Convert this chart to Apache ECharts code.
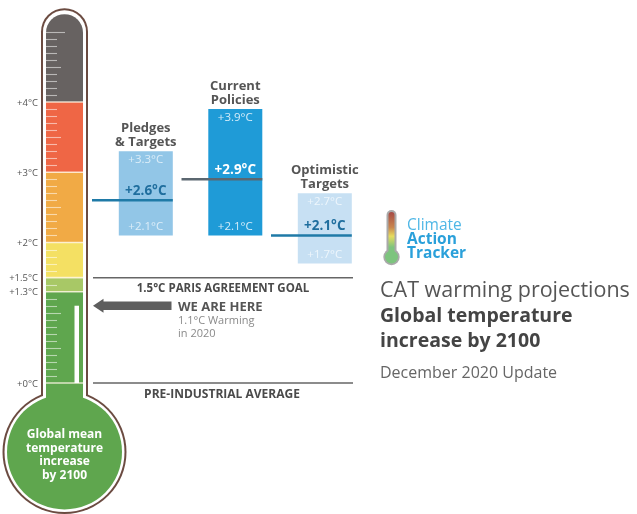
<!DOCTYPE html>
<html><head><meta charset="utf-8">
<script src="https://cdn.jsdelivr.net/npm/echarts@6/dist/echarts.min.js"></script>
<style>html,body{margin:0;padding:0;background:#fff}#c{width:637px;height:514px}</style>
</head><body><div id="c"></div><script>
// ---- data ----
const scenarioNames = ['Pledges & Targets', 'Current Policies', 'Optimistic Targets'];
const scenarioTitles = ['Pledges\n& Targets', 'Current\nPolicies', 'Optimistic\nTargets'];
const lowValues = [2.1, 2.1, 1.7];
const highValues = [3.3, 3.9, 2.7];
const medianValues = [2.6, 2.9, 2.1];
const bandBounds = [0, 1.3, 1.5, 2, 3, 4, 5.25];
const tempLabelValues = [4, 3, 2, 1.5, 1.3, 0];
const currentWarming = 1.1;
const currentYear = 2020;
const parisGoal = 1.5;
const preIndustrial = 0;

// ---- styles ----
const FONT = '"Open Sans", "DejaVu Sans", sans-serif';
const bandColors = ['#5fa64e', '#a8c866', '#f4e063', '#f1aa45', '#ef6645', '#676261'];
const barColors = ['#92c6e7', '#1f9bd7', '#c7e0f3'];
const lineColors = ['#1f7aa7', '#5b6770', '#1f7aa7'];
const medianTextColors = ['#1f6e9e', '#ffffff', '#1f6e9e'];
const rangeTextColors = ['#dcedf8', '#d4ecf9', '#eef6fc'];
const Y_MIN = -1, Y_MAX = 5.4;

const fmtRange = v => '+' + v.toFixed(1) + '\u00B0C';
const fmtAxis = v => '+' + (Number.isInteger(v) ? v : v.toFixed(1)) + '\u00B0C';

function txt(text, x, y, o) {
  return { type: 'text', style: Object.assign({ text: text, x: x, y: y, fontFamily: FONT, fontSize: 11, fill: '#555', align: 'center', verticalAlign: 'middle' }, o || {}) };
}

function renderThermo(params, api) {
  const y = v => api.coord([0, v])[1];
  const L = 46, R = 83, W = R - L, CX = 64.5, bulbCY = 452;
  const ch = [];
  const tubeTop = y(bandBounds[bandBounds.length - 1]);
  ch.push({ type: 'rect', shape: { x: 41, y: tubeTop - 6, width: 47, height: bulbCY - tubeTop + 6, r: [23.5, 23.5, 0, 0] }, style: { fill: '#6b4b41' } });
  ch.push({ type: 'circle', shape: { cx: CX, cy: bulbCY, r: 62 }, style: { fill: '#6b4b41' } });
  ch.push({ type: 'rect', shape: { x: 43, y: tubeTop - 4, width: 43, height: bulbCY - tubeTop + 4, r: [21.5, 21.5, 0, 0] }, style: { fill: '#fff' } });
  ch.push({ type: 'circle', shape: { cx: CX, cy: bulbCY, r: 60 }, style: { fill: '#fff' } });
  ch.push({ type: 'circle', shape: { cx: CX, cy: bulbCY, r: 57.5 }, style: { fill: bandColors[0] } });
  const nb = bandBounds.length - 1;
  for (let i = 0; i < nb; i++) {
    const top = y(bandBounds[i + 1]);
    const bot = i === 0 ? bulbCY : y(bandBounds[i]);
    ch.push({ type: 'rect', shape: { x: L, y: top, width: W, height: bot - top, r: i === nb - 1 ? [18.5, 18.5, 0, 0] : 0 }, style: { fill: bandColors[i] } });
  }
  // ticks every 0.1
  for (let k = 1; k <= 50; k++) {
    const v = k / 10;
    if (k !== 50 && bandBounds.some(b => Math.abs(b - v) < 1e-6)) continue;
    const len = k === 50 ? 19 : (k % 5 === 0 ? 15 : 11);
    const yy = Math.round(y(v)) + 0.5;
    ch.push({ type: 'line', shape: { x1: L, y1: yy, x2: L + len, y2: yy }, style: { stroke: 'rgba(255,255,255,0.55)', lineWidth: 1.1 } });
  }
  // separators
  for (let i = 0; i < nb; i++) {
    const yy = y(bandBounds[i]);
    ch.push({ type: 'line', shape: { x1: L, y1: yy, x2: R, y2: yy }, style: { stroke: 'rgba(255,248,230,0.8)', lineWidth: 1.6 } });
  }
  // current warming white bar
  ch.push({ type: 'rect', shape: { x: 74.5, y: y(currentWarming), width: 4.5, height: y(0) - y(currentWarming) }, style: { fill: '#ffffff' } });
  // bulb text
  ch.push(txt('Global mean\ntemperature\nincrease\nby 2100', CX, 455, { fill: '#fff', fontWeight: 'bold', fontSize: 12, lineHeight: 13.5 }));
  // left labels
  tempLabelValues.forEach(v => ch.push(txt(fmtAxis(v), 38, y(v) + 1, { align: 'right', fontSize: 9.5, fill: '#555' })));
  // reference lines
  const yP = y(parisGoal), y0 = y(preIndustrial);
  ch.push({ type: 'line', shape: { x1: 93, y1: yP, x2: 353, y2: yP }, style: { stroke: '#666', lineWidth: 1.5 } });
  ch.push(txt(parisGoal.toFixed(1) + '\u00B0C PARIS AGREEMENT GOAL', 223, yP + 11.5, { fontWeight: 'bold', fontSize: 11.5, fill: '#4a4a4a' }));
  ch.push({ type: 'line', shape: { x1: 93, y1: y0, x2: 353, y2: y0 }, style: { stroke: '#666', lineWidth: 1.5 } });
  ch.push(txt('PRE-INDUSTRIAL AVERAGE', 222, y0 + 11.5, { fontWeight: 'bold', fontSize: 12, fill: '#4a4a4a' }));
  // arrow "we are here"
  const ya = y(currentWarming);
  ch.push({ type: 'polygon', shape: { points: [[93, ya], [103.5, ya - 7], [103.5, ya - 4.2], [171.5, ya - 4.2], [171.5, ya + 4.2], [103.5, ya + 4.2], [103.5, ya + 7]] }, style: { fill: '#5e5e5e' } });
  ch.push(txt('WE ARE HERE', 178, ya + 1.5, { align: 'left', fontWeight: 'bold', fontSize: 13, fill: '#555' }));
  ch.push(txt(currentWarming.toFixed(1) + '\u00B0C Warming\nin ' + currentYear, 178, ya + 22, { align: 'left', fontSize: 11, fill: '#8a8a8a', lineHeight: 13 }));
  return { type: 'group', children: ch };
}

function renderScenario(params, api) {
  const i = api.value(0), lo = api.value(1), hi = api.value(2), md = api.value(3);
  const c = api.coord([i, hi]);
  const bw = api.size([1, 0])[0];
  const x0 = c[0] - bw / 2;
  const bx = x0 + 27.8, bW = 54, cx = bx + bW / 2;
  const yHi = c[1], yLo = api.coord([i, lo])[1], yMd = api.coord([i, md])[1];
  const ch = [];
  ch.push({ type: 'rect', shape: { x: bx, y: yHi, width: bW, height: yLo - yHi }, style: { fill: barColors[i] } });
  ch.push({ type: 'line', shape: { x1: x0 + 1, y1: yMd, x2: bx + bW, y2: yMd }, style: { stroke: lineColors[i], lineWidth: 2.5 } });
  ch.push(txt(fmtRange(hi), cx, yHi + 8.5, { fontSize: 11.5, fill: rangeTextColors[i] }));
  ch.push(txt(fmtRange(lo), cx, yLo - 8.5, { fontSize: 11.5, fill: rangeTextColors[i] }));
  ch.push(txt(fmtRange(md), cx, yMd - 9, { fontSize: 13.5, fontWeight: 'bold', fill: medianTextColors[i] }));
  ch.push(txt(scenarioTitles[i], cx, yHi - 2, { verticalAlign: 'bottom', fontSize: 13, fontWeight: 'bold', fill: '#555', lineHeight: 14 }));
  return { type: 'group', children: ch };
}

const chart = echarts.init(document.getElementById('c'));
chart.setOption({
  animation: false,
  backgroundColor: '#fff',
  grid: [
    { left: 91, width: 268.5, top: 3.65, bottom: 60.75 },
    { left: 0, right: 0, top: 3.65, bottom: 60.75 }
  ],
  xAxis: [
    { type: 'category', gridIndex: 0, data: scenarioNames, show: false },
    { type: 'value', gridIndex: 1, min: 0, max: 637, show: false }
  ],
  yAxis: [
    { type: 'value', gridIndex: 0, min: Y_MIN, max: Y_MAX, show: false },
    { type: 'value', gridIndex: 1, min: Y_MIN, max: Y_MAX, show: false }
  ],
  graphic: [
    { type: 'rect', shape: { x: 386.5, y: 210, width: 10, height: 44, r: [5, 5, 0, 0] }, style: { fill: '#a9a9a9' } },
    { type: 'circle', shape: { cx: 391.5, cy: 257, r: 8.2 }, style: { fill: '#a9a9a9' } },
    { type: 'rect', shape: { x: 388.5, y: 212, width: 6, height: 44, r: [3, 3, 0, 0] }, style: { fill: new echarts.graphic.LinearGradient(0, 0, 0, 1, [
      { offset: 0, color: '#a64a45' }, { offset: 0.35, color: '#c9864e' }, { offset: 0.55, color: '#e6dc5e' }, { offset: 0.8, color: '#7dc47e' }, { offset: 1, color: '#7dc47e' }]) } },
    { type: 'circle', shape: { cx: 391.5, cy: 257, r: 6.5 }, style: { fill: '#7dc47e' } },
    { type: 'text', style: { text: 'Climate', x: 407, y: 226, fontFamily: FONT, fontSize: 15.5, fill: '#4fb7e6', verticalAlign: 'middle' } },
    { type: 'text', style: { text: 'Action', x: 407, y: 240, fontFamily: FONT, fontSize: 15.5, fontWeight: 'bold', fill: '#2aa0da', verticalAlign: 'middle' } },
    { type: 'text', style: { text: 'Tracker', x: 407, y: 254, fontFamily: FONT, fontSize: 15.5, fontWeight: 'bold', fill: '#2aa0da', verticalAlign: 'middle' } },
    { type: 'text', style: { text: 'CAT warming projections', x: 380, y: 291, fontFamily: FONT, fontSize: 21.5, fill: '#555', verticalAlign: 'middle' } },
    { type: 'text', style: { text: 'Global temperature\nincrease by 2100', x: 380, y: 328.5, fontFamily: FONT, fontSize: 19.5, fontWeight: 'bold', fill: '#444', lineHeight: 25, verticalAlign: 'middle' } },
    { type: 'text', style: { text: 'December 2020 Update', x: 380, y: 373, fontFamily: FONT, fontSize: 16, fill: '#666', verticalAlign: 'middle' } }
  ],
  series: [
    { type: 'custom', xAxisIndex: 1, yAxisIndex: 1, clip: false, renderItem: renderThermo, data: [[0, currentWarming]], silent: true },
    { type: 'custom', xAxisIndex: 0, yAxisIndex: 0, clip: false, renderItem: renderScenario,
      encode: { x: 0, y: [1, 2, 3] },
      data: scenarioNames.map((n, i) => [i, lowValues[i], highValues[i], medianValues[i]]) }
  ]
});
</script></body></html>
